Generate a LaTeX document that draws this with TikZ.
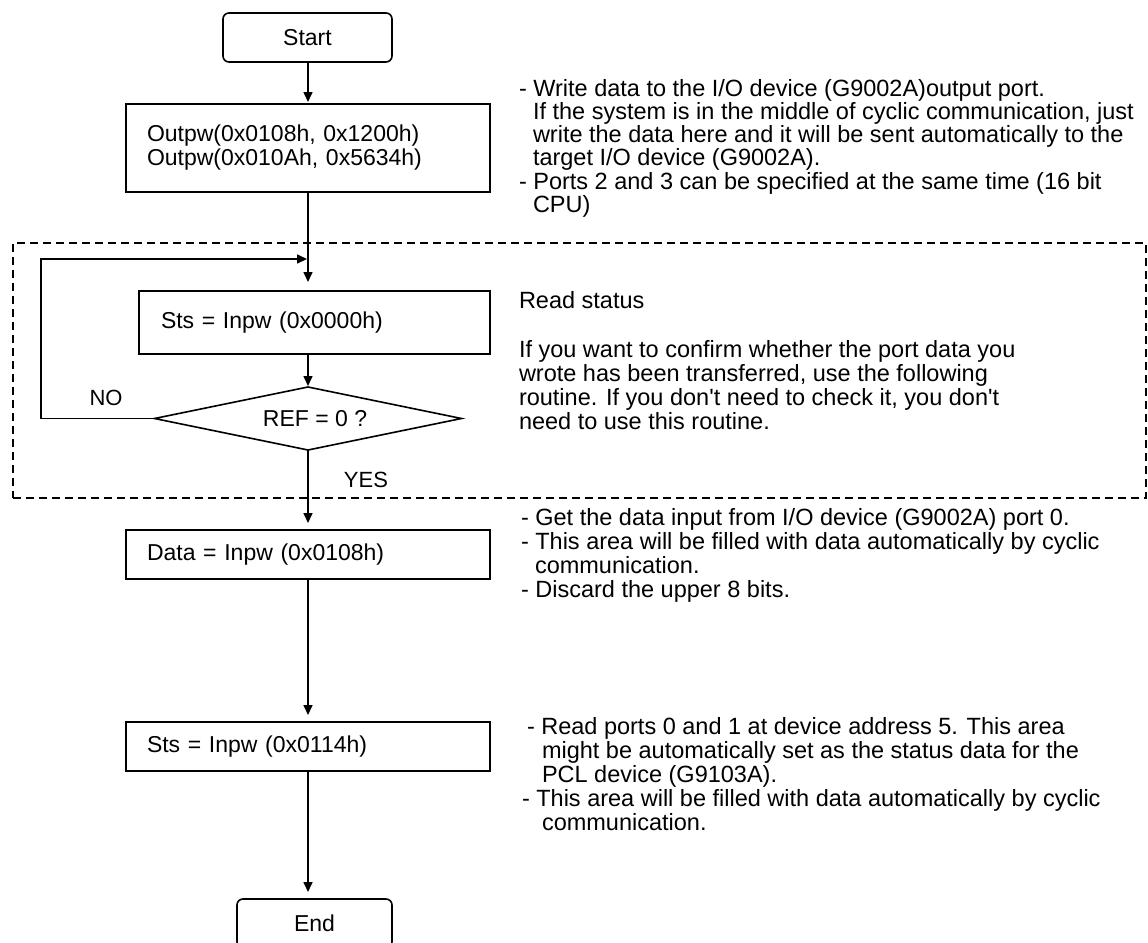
\documentclass[tikz,border=0pt]{standalone}
\usepackage{fontspec}
\setmainfont{Liberation Sans}
\usetikzlibrary{arrows.meta,shapes.geometric}
\begin{document}
\begin{tikzpicture}[x=1pt,y=-1pt,
  every node/.style={inner sep=0pt,outer sep=0pt},
  boxfont/.style={font=\fontsize{23}{24}\selectfont},
  termbox/.style={draw,line width=1.6pt,rounded corners=6pt,boxfont},
  procbox/.style={draw,line width=1.6pt,boxfont,align=left,inner xsep=21pt,anchor=north west},
  decbox/.style={draw,line width=1.6pt,diamond,aspect=4.87,boxfont},
  lbl/.style={font=\fontsize{22}{26}\selectfont},
  note/.style={font=\fontsize{23.5}{24}\selectfont,anchor=base west},
  conn/.style={line width=1.6pt},
  arr/.style={conn,-{Triangle[length=10pt,width=9pt]}},
  grpbox/.style={draw,line width=1.3pt,dash pattern=on 8pt off 5pt,anchor=north west}
]
\clip (0,0) rectangle (1148,942);
\useasboundingbox (0,0) rectangle (1148,942);

% group box
\node[grpbox,minimum width=1133pt,minimum height=255pt] (grp) at (13,243) {};

% flow nodes
\node[termbox,minimum width=169pt,minimum height=49pt] (start) at (307.5,37.5) {Start};
\node[procbox,minimum width=364pt,minimum height=88pt,text width=322pt] (out) at (126,104)
  {Outpw(0x0108h, 0x1200h)\\Outpw(0x010Ah, 0x5634h)};
\node[procbox,minimum width=351pt,minimum height=63pt,text width=307pt,inner xsep=22pt] (sts) at (139,291)
  {Sts = Inpw (0x0000h)};
\node[decbox,minimum width=307pt,minimum height=63pt] (dia) at (308,418.5) {\hspace{14pt}REF = 0 ?};
\node[procbox,minimum width=364pt,minimum height=49pt,text width=322pt] (data) at (126,530)
  {Data = Inpw (0x0108h)};
\node[procbox,minimum width=364pt,minimum height=49pt,text width=322pt] (sts2) at (126,722)
  {Sts = Inpw (0x0114h)};
\node[termbox,minimum width=155pt,minimum height=49pt] (end) at (314.5,923.5) {End};

% labels
\node[lbl] (no) at (106,398) {NO};
\node[lbl] (yes) at (366,480) {YES};

% connectors
\coordinate (lc) at (41,259);
\coordinate (jn) at (307,259);
\draw[arr,shorten >=2pt] (start.south -| out.south) -- (out.south |- out.north);
\draw[arr,shorten >=9pt] (out.south) -- (out.south |- sts.north);
\draw[arr] (dia.west) -- (dia.west -| lc) -- (lc) -- (jn);
\draw[arr,shorten >=1pt] (dia.north |- sts.south) -- (dia.north);
\draw[arr,shorten >=7pt] (dia.south) -- (dia.south |- data.north);
\draw[arr,shorten >=7pt] (data.south) -- (sts2.north -| data.south);
\draw[arr,shorten >=7pt] (sts2.south) -- (sts2.south |- end.north);

% notes: Outpw
\node[note] (n1a) at (519,96) {- Write data to the I/O device (G9002A)output port.};
\node[note] (n1b) at (533,119) {If the system is in the middle of cyclic communication, just};
\node[note] (n1c) at (533,142) {write the data here and it will be sent automatically to the};
\node[note] (n1d) at (533,165.5) {target I/O device (G9002A).};
\node[note] (n1e) at (519,189) {- Ports 2 and 3 can be specified at the same time (16 bit};
\node[note] (n1f) at (533,212) {CPU)};

% notes: read status
\node[note] (n2a) at (519,308) {Read status};
\node[note] (n2b) at (519,357) {If you want to confirm whether the port data you};
\node[note] (n2c) at (519,381) {wrote has been transferred, use the following};
\node[note] (n2d) at (519,405) {routine. If you don\textquotesingle t need to check it, you don\textquotesingle t};
\node[note] (n2e) at (519,429) {need to use this routine.};

% notes: data
\node[note] (n3a) at (521,525) {- Get the data input from I/O device (G9002A) port 0.};
\node[note] (n3b) at (521,549) {- This area will be filled with data automatically by cyclic};
\node[note] (n3c) at (535,573) {communication.};
\node[note] (n3d) at (521,597) {- Discard the upper 8 bits.};

% notes: sts2
\node[note] (n4a) at (527,734) {- Read ports 0 and 1 at device address 5. This area};
\node[note] (n4b) at (542,758) {might be automatically set as the status data for the};
\node[note] (n4c) at (542,782) {PCL device (G9103A).};
\node[note] (n4d) at (522,806) {- This area will be filled with data automatically by cyclic};
\node[note] (n4e) at (542,830) {communication.};
\end{tikzpicture}
\end{document}
